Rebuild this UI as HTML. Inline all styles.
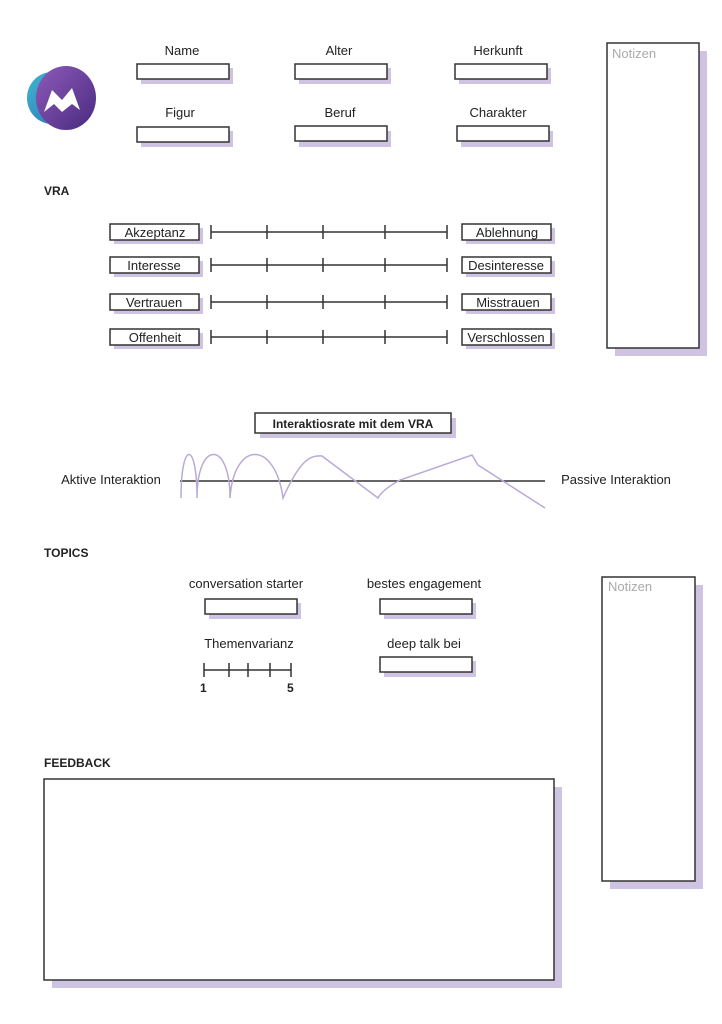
<!DOCTYPE html>
<html><head><meta charset="utf-8"><style>
html,body{margin:0;padding:0;background:#fff;}
svg{display:block;font-family:"Liberation Sans",sans-serif;}
</style></head><body>
<svg width="722" height="1024" viewBox="0 0 722 1024" xmlns="http://www.w3.org/2000/svg">
<defs>
<linearGradient id="g1" x1="0" y1="0" x2="1" y2="1"><stop offset="0" stop-color="#3fb6cf"/><stop offset="1" stop-color="#2f6fb8"/></linearGradient>
<linearGradient id="g2" x1="0" y1="0" x2="1" y2="1"><stop offset="0" stop-color="#8c5ab8"/><stop offset="1" stop-color="#4a2a80"/></linearGradient>
</defs>
<!-- logo -->
<ellipse cx="52" cy="98" rx="25" ry="26" fill="url(#g1)"/>
<ellipse cx="66" cy="98" rx="30" ry="32" fill="url(#g2)"/>
<path d="M44 112 L52 90 L62 100 L72 88 L80 110 L72 104 L62 112 L54 104 Z" fill="#fff"/>
<g fill="#cfc3e3">
<rect x="141" y="68" width="92" height="16"/><rect x="299" y="68" width="92" height="16"/><rect x="459" y="68" width="92" height="16"/>
<rect x="141" y="131" width="92" height="16"/><rect x="299" y="131" width="92" height="16"/><rect x="461" y="131" width="92" height="16"/>
<rect x="615" y="51" width="92" height="305"/>
<rect x="610" y="585" width="93" height="304"/>
<rect x="52" y="787" width="510" height="201"/>
<rect x="260" y="418" width="196" height="20"/>
<rect x="209" y="603" width="92" height="16"/><rect x="384" y="603" width="92" height="16"/><rect x="384" y="661" width="92" height="16"/>
<rect x="114" y="228" width="89" height="16"/><rect x="466" y="228" width="89" height="16"/>
<rect x="114" y="261" width="89" height="16"/><rect x="466" y="261" width="89" height="16"/>
<rect x="114" y="298" width="89" height="16"/><rect x="466" y="298" width="89" height="16"/>
<rect x="114" y="333" width="89" height="16"/><rect x="466" y="333" width="89" height="16"/>
</g>
<g fill="#fff" stroke="#333" stroke-width="1.5">
<rect x="137" y="64" width="92" height="15"/><rect x="295" y="64" width="92" height="15"/><rect x="455" y="64" width="92" height="15"/>
<rect x="137" y="127" width="92" height="15"/><rect x="295" y="126" width="92" height="15"/><rect x="457" y="126" width="92" height="15"/>
<rect x="607" y="43" width="92" height="305"/>
<rect x="602" y="577" width="93" height="304"/>
<rect x="44" y="779" width="510" height="201"/>
<rect x="255" y="413" width="196" height="20"/>
<rect x="205" y="599" width="92" height="15"/><rect x="380" y="599" width="92" height="15"/><rect x="380" y="657" width="92" height="15"/>
<rect x="110" y="224" width="89" height="16"/><rect x="462" y="224" width="89" height="16"/>
<rect x="110" y="257" width="89" height="16"/><rect x="462" y="257" width="89" height="16"/>
<rect x="110" y="294" width="89" height="16"/><rect x="462" y="294" width="89" height="16"/>
<rect x="110" y="329" width="89" height="16"/><rect x="462" y="329" width="89" height="16"/>
</g>
<g font-size="13" fill="#222" text-anchor="middle">
<text x="182" y="55">Name</text><text x="339" y="55">Alter</text><text x="498" y="55">Herkunft</text>
<text x="180" y="117">Figur</text><text x="340" y="117">Beruf</text><text x="498" y="117">Charakter</text>
<text x="155" y="237">Akzeptanz</text><text x="507" y="237">Ablehnung</text>
<text x="154" y="270">Interesse</text><text x="506" y="270">Desinteresse</text>
<text x="154" y="307">Vertrauen</text><text x="508" y="307">Misstrauen</text>
<text x="155" y="342">Offenheit</text><text x="506" y="342">Verschlossen</text>
<text x="246" y="588">conversation starter</text><text x="424" y="588">bestes engagement</text>
<text x="249" y="648">Themenvarianz</text><text x="424" y="648">deep talk bei</text>
<text x="111" y="484">Aktive Interaktion</text><text x="616" y="484">Passive Interaktion</text>
</g>
<g font-size="13" fill="#aaa"><text x="612" y="58">Notizen</text><text x="608" y="591">Notizen</text></g>
<g font-size="12" font-weight="bold" fill="#222">
<text x="44" y="195">VRA</text><text x="44" y="557">TOPICS</text><text x="44" y="767">FEEDBACK</text>
<text x="353" y="428" text-anchor="middle">Interaktiosrate mit dem VRA</text>
<text x="200" y="692">1</text><text x="287" y="692">5</text>
</g>
<g stroke="#333" stroke-width="1.5">
<line x1="211" y1="232" x2="447" y2="232"/><line x1="211" y1="265" x2="447" y2="265"/>
<line x1="211" y1="302" x2="447" y2="302"/><line x1="211" y1="337" x2="447" y2="337"/>
<path d="M211 225v14M267 225v14M323 225v14M385 225v14M447 225v14 M211 258v14M267 258v14M323 258v14M385 258v14M447 258v14 M211 295v14M267 295v14M323 295v14M385 295v14M447 295v14 M211 330v14M267 330v14M323 330v14M385 330v14M447 330v14"/>
<line x1="204" y1="670" x2="291" y2="670"/>
<path d="M204 663v14M229 663v14M248 663v14M270 663v14M291 663v14"/>
<line x1="180" y1="481" x2="545" y2="481"/>
</g>
<path d="M181 498 C181 440 197 440 197 498 C197 440 230 440 230 498 C234 440 275 440 283 498 C300 460 310 455 322 456 L378 498 Q382 490 400 480 L472 455 L478 465 L545 508" fill="none" stroke="#b9a9d8" stroke-width="1.5"/>
</svg>
</body></html>
